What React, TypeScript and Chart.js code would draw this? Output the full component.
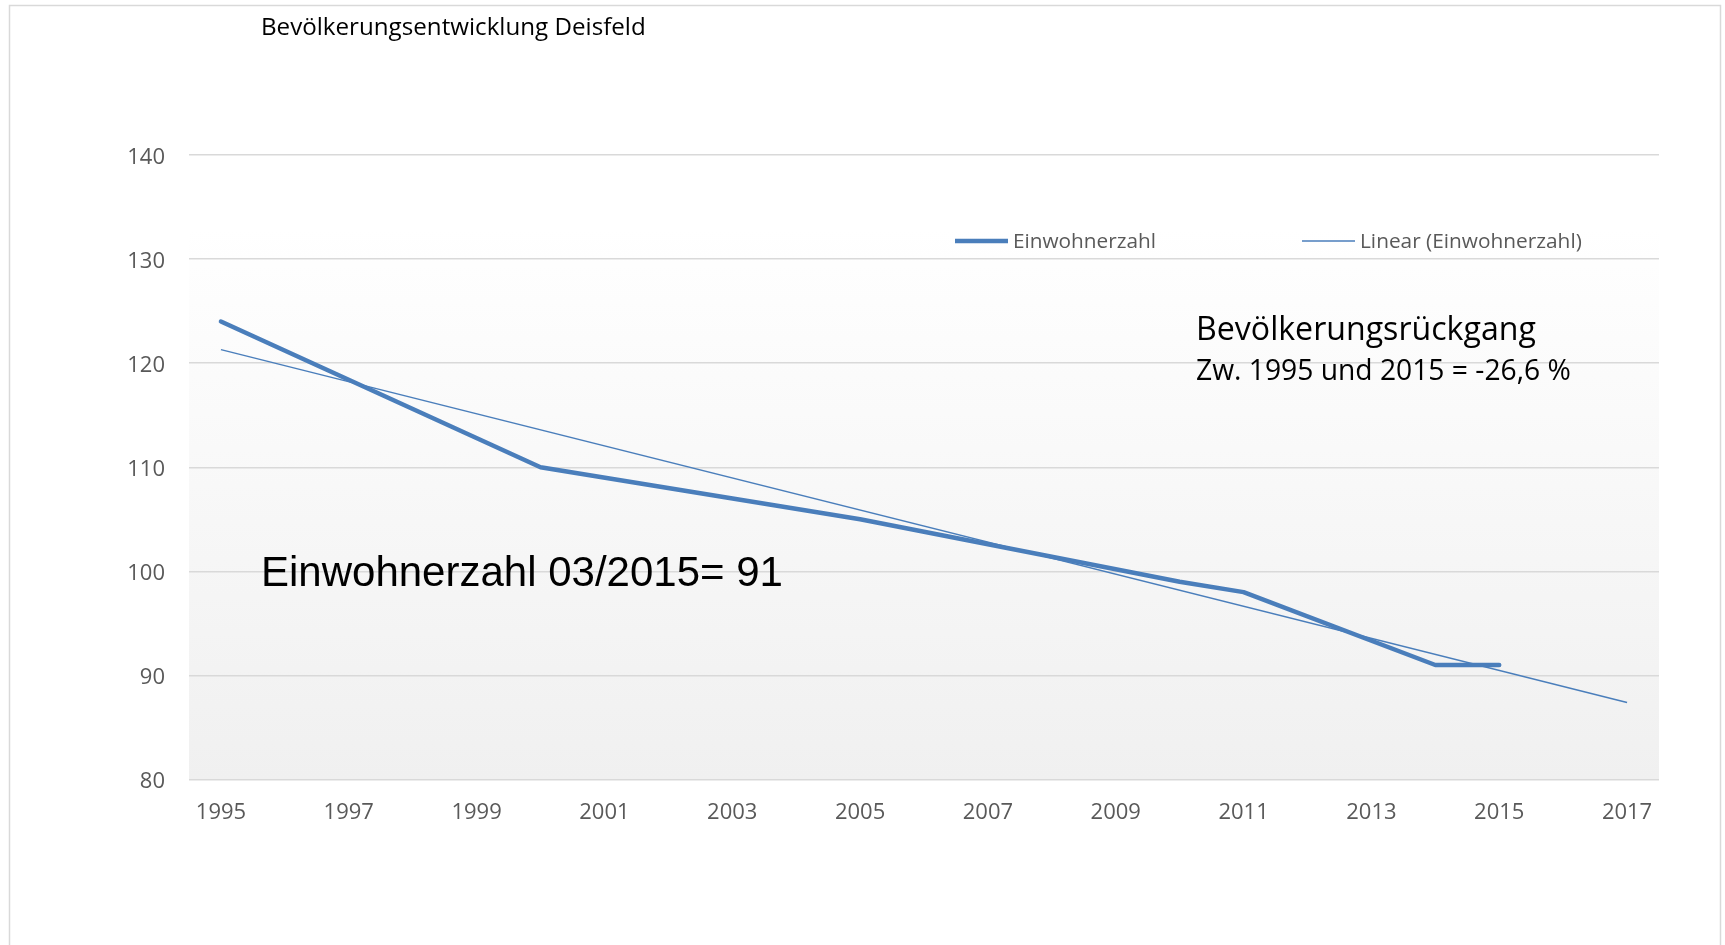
import React, { useEffect, useRef } from "react";
import { Chart, registerables } from "chart.js";

Chart.register(...registerables);

const years = ["1995","1996","1997","1998","1999","2000","2001","2002","2003","2004","2005","2006","2007","2008","2009","2010","2011","2012","2013","2014","2015","2016","2017"];
const einwohner: (number | null)[] = [124, null, null, null, null, 110, null, null, null, null, 105, null, null, null, null, 99, 98, null, null, 91, 91, null, null];
const trend: (number | null)[] = [121.3, null, null, null, null, null, null, null, null, null, null, null, null, null, null, null, null, null, null, null, null, null, 87.4];
const yMin = 80;
const yMax = 140;
const yStep = 10;
const title = "Bevölkerungsentwicklung Deisfeld";
const seriesName = "Einwohnerzahl";
const trendName = "Linear (Einwohnerzahl)";
const note1 = "Bevölkerungsrückgang";
const note2 = "Zw. 1995 und 2015 = -26,6 %";
const note3 = "Einwohnerzahl 03/2015= 91";

const BLUE = "#4a7ebb";
const FONT = "'Open Sans', sans-serif";

function fitText(ctx: CanvasRenderingContext2D, text: string, x: number, y: number, width: number, family: string, color: string) {
  ctx.font = `100px ${family}`;
  const w = ctx.measureText(text).width;
  const size = (100 * width) / w;
  ctx.font = `${size}px ${family}`;
  ctx.fillStyle = color;
  ctx.textAlign = "left";
  ctx.textBaseline = "alphabetic";
  ctx.fillText(text, x, y);
}

const decor = {
  id: "decor",
  beforeDraw(chart: any) {
    const { ctx, chartArea } = chart;
    ctx.save();
    ctx.fillStyle = "#ffffff";
    ctx.fillRect(0, 0, chart.width, chart.height);
    const top = 228;
    const g = ctx.createLinearGradient(0, top, 0, chartArea.bottom);
    g.addColorStop(0, "#ffffff");
    g.addColorStop(1, "#f0f0f0");
    ctx.fillStyle = g;
    ctx.fillRect(chartArea.left, top, chartArea.right - chartArea.left, chartArea.bottom - top);
    ctx.strokeStyle = "#d9d9d9";
    ctx.lineWidth = 1.5;
    ctx.beginPath();
    ctx.moveTo(9.5, chart.height + 2);
    ctx.lineTo(9.5, 5.5);
    ctx.lineTo(1720.5, 5.5);
    ctx.lineTo(1720.5, chart.height + 2);
    ctx.stroke();
    ctx.restore();
  },
  afterDatasetsDraw(chart: any) {
    const { ctx } = chart;
    ctx.save();
    fitText(ctx, title, 261, 35, 385, FONT, "#000000");
    const ds = chart.data.datasets;
    ctx.strokeStyle = ds[0].borderColor;
    ctx.lineWidth = ds[0].borderWidth;
    ctx.lineCap = "butt";
    ctx.beginPath();
    ctx.moveTo(955, 241);
    ctx.lineTo(1008, 241);
    ctx.stroke();
    fitText(ctx, seriesName, 1013, 248, 143, FONT, "#595959");
    ctx.strokeStyle = ds[1].borderColor;
    ctx.lineWidth = ds[1].borderWidth;
    ctx.beginPath();
    ctx.moveTo(1302, 241);
    ctx.lineTo(1355, 241);
    ctx.stroke();
    fitText(ctx, trendName, 1360, 248, 222, FONT, "#595959");
    fitText(ctx, note1, 1196, 340, 340, FONT, "#000000");
    fitText(ctx, note2, 1196, 380, 375, FONT, "#000000");
    fitText(ctx, note3, 261, 586, 522, "'Liberation Sans', Arial, sans-serif", "#000000");
    ctx.restore();
  },
};

export default function App() {
  const ref = useRef<HTMLCanvasElement | null>(null);
  useEffect(() => {
    if (!ref.current) return;
    const chart = new Chart(ref.current, {
      type: "line",
      data: {
        labels: years,
        datasets: [
          {
            label: seriesName,
            data: einwohner,
            borderColor: BLUE,
            borderWidth: 4.5,
            pointRadius: 0,
            tension: 0,
            spanGaps: true,
            borderCapStyle: "round",
            borderJoinStyle: "round",
            order: 1,
          },
          {
            label: trendName,
            data: trend,
            borderColor: BLUE,
            borderWidth: 1.5,
            pointRadius: 0,
            tension: 0,
            spanGaps: true,
            order: 2,
          },
        ],
      },
      options: {
        responsive: false,
        animation: false,
        events: [],
        layout: { padding: { left: 0, top: 155, right: 66, bottom: 105.5 } },
        plugins: { legend: { display: false }, tooltip: { enabled: false }, title: { display: false } },
        scales: {
          x: {
            type: "category",
            offset: true,
            grid: { display: false, drawTicks: false },
            border: { display: false },
            ticks: {
              autoSkip: false,
              maxRotation: 0,
              padding: 20,
              color: "#595959",
              font: { family: FONT, size: 22 },
              callback: (_v: any, i: number) => (i % 2 === 0 ? years[i] : ""),
            },
            afterFit: (s: any) => { s.height = 60; },
          },
          y: {
            min: yMin,
            max: yMax,
            grid: { color: "#d9d9d9", lineWidth: 1.5, drawTicks: false },
            border: { display: false },
            ticks: {
              stepSize: yStep,
              padding: 24,
              labelOffset: 2.5,
              color: "#595959",
              font: { family: FONT, size: 22 },
            },
            afterFit: (s: any) => { s.width = 189; },
          },
        },
      },
      plugins: [decor],
    });
    return () => chart.destroy();
  }, []);
  return (
    <div style={{ position: "absolute", left: 0, top: 0, width: 1725, height: 945 }}>
      <canvas ref={ref} width={1725} height={945} style={{ width: 1725, height: 945, display: "block" }} />
    </div>
  );
}
